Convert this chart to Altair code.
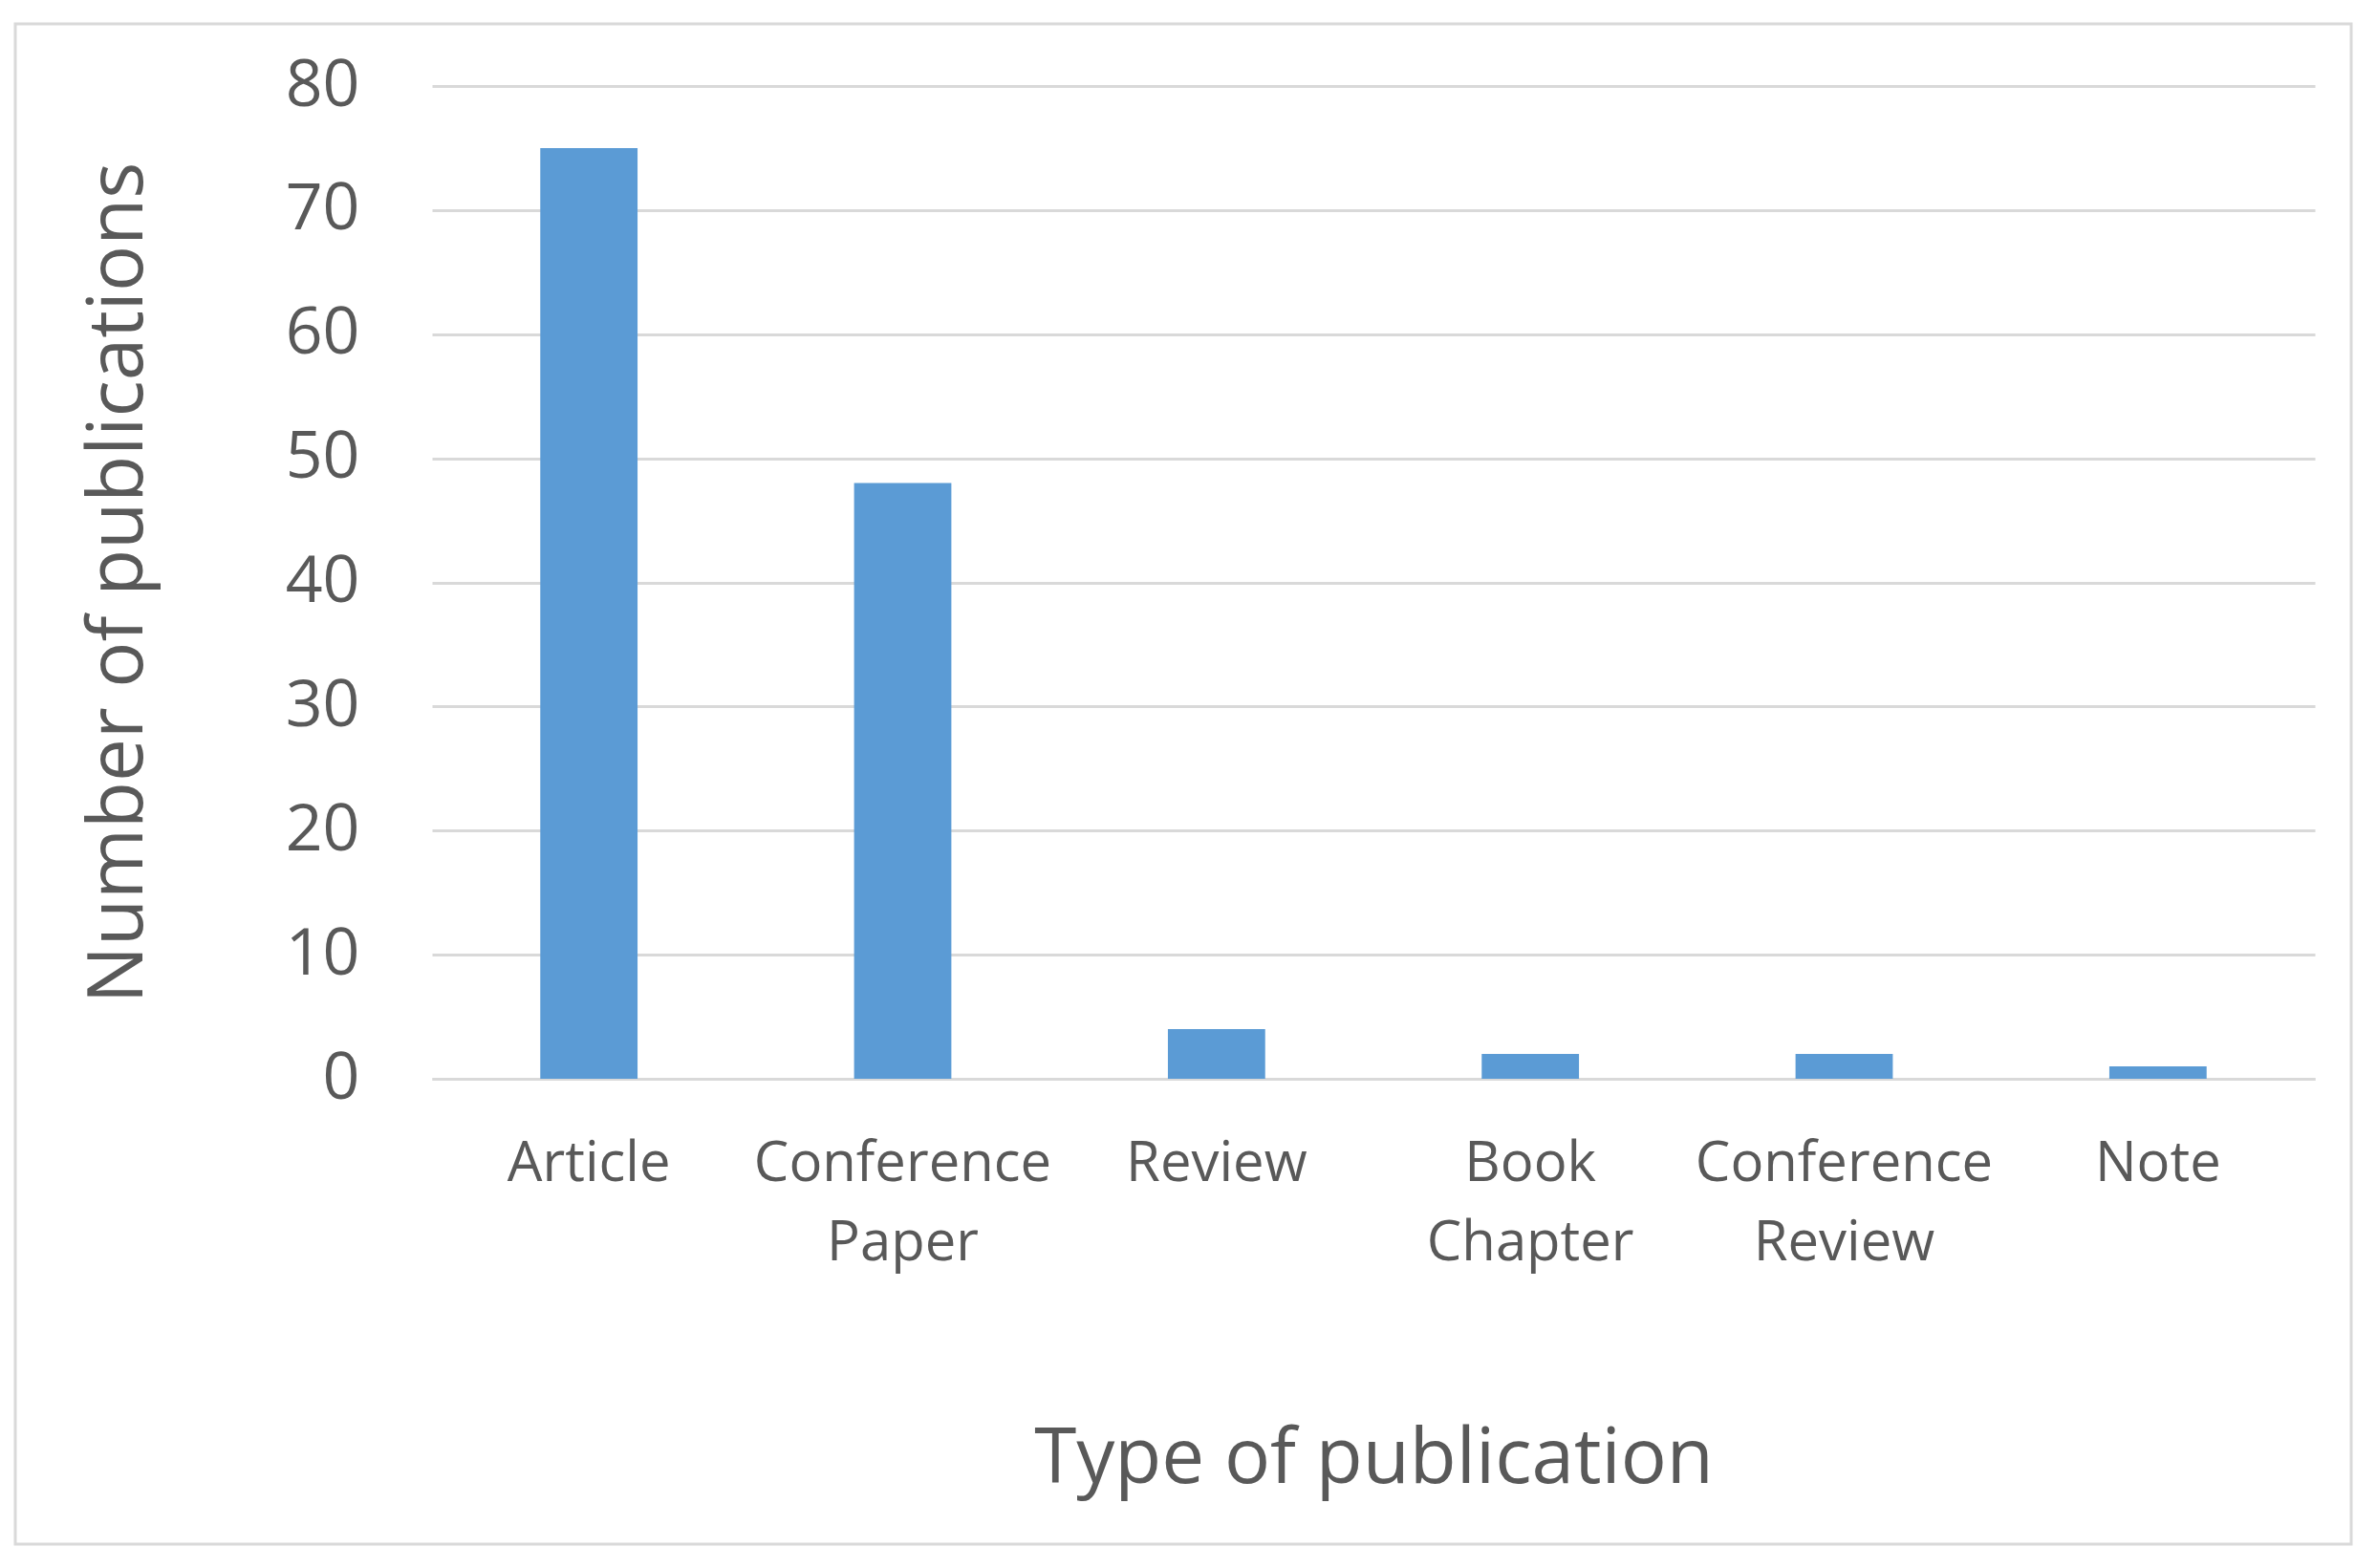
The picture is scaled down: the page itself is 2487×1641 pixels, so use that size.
import altair as alt
import pandas as pd

categories = ["Article", "Conference Paper", "Review", "Book Chapter", "Conference Review", "Note"]
counts = [75, 48, 4, 2, 2, 1]
y_ticks = [0, 10, 20, 30, 40, 50, 60, 70, 80]

df = pd.DataFrame({"type": categories, "count": counts})

FONT = "Open Sans"
TEXT = "#595959"
GRID = "#D9D9D9"

W, H = 1970, 1039

bars = alt.Chart(df).mark_bar(color="#5B9BD5").encode(
    x=alt.X(
        "type:N",
        sort=categories,
        scale=alt.Scale(paddingInner=0.69, paddingOuter=0.345),
        axis=alt.Axis(
            title="Type of publication",
            titleFontSize=80,
            titleFont=FONT,
            titleColor=TEXT,
            titleFontWeight="normal",
            titleY=422,
            titleBaseline="alphabetic",
            labelExpr="split(datum.label, ' ')",
            labelFontSize=58,
            labelFont=FONT,
            labelColor=TEXT,
            labelAngle=0,
            labelLineHeight=83,
            labelPadding=60,
            labelBaseline="top",
            labelLimit=0,
            labelOverlap=False,
            ticks=False,
            domainColor=GRID,
            domainWidth=3,
            grid=False,
        ),
    ),
    y=alt.Y(
        "count:Q",
        scale=alt.Scale(domain=[0, 80]),
        axis=alt.Axis(
            title="Number of publications",
            titleFontSize=80,
            titleFont=FONT,
            titleColor=TEXT,
            titleFontWeight="normal",
            titleAngle=-90,
            titleX=-304,
            titleY=H / 2,
            titleBaseline="alphabetic",
            titleAlign="center",
            values=y_ticks,
            labelFontSize=68,
            labelFont=FONT,
            labelColor=TEXT,
            labelPadding=76,
            ticks=False,
            domain=False,
            gridColor=GRID,
            gridWidth=3,
        ),
    ),
)

border = alt.Chart(pd.DataFrame({"a": [0]})).mark_rect(
    fill=None, stroke=GRID, strokeWidth=3
).encode(
    x=alt.value(-436), x2=alt.value(2008), y=alt.value(-65), y2=alt.value(1526)
)

chart = alt.layer(border, bars).properties(
    width=W,
    height=H,
    background="white",
    autosize=alt.AutoSizeParams(type="none"),
    padding={"left": 444, "top": 82, "right": 50, "bottom": 490},
).configure_view(strokeWidth=0, stroke=None)

chart.save("out.html", embed_options={"renderer": "svg", "actions": False})
